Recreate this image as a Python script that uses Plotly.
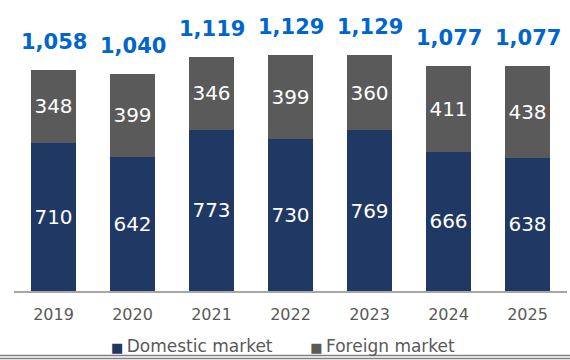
import plotly.graph_objects as go

years = ["2019", "2020", "2021", "2022", "2023", "2024", "2025"]
domestic = [710, 642, 773, 730, 769, 666, 638]
foreign = [348, 399, 346, 399, 360, 411, 438]
totals = [1058, 1040, 1119, 1129, 1129, 1077, 1077]
series_names = ["Domestic market", "Foreign market"]
series_colors = ["#1F3864", "#5A5A5A"]

FONT = "DejaVu Sans"
fig = go.Figure()
for name, vals, col in zip(series_names, [domestic, foreign], series_colors):
    fig.add_trace(go.Bar(
        x=years, y=vals, name=name,
        marker=dict(color=col, line=dict(width=0)),
        text=[str(v) for v in vals], textposition="inside",
        insidetextanchor="middle", textangle=0, constraintext="none",
        textfont=dict(color="white", size=20, family=FONT),
        showlegend=False,
    ))

# category index positions for annotations (numeric-looking strings would be read as indices)
for i, t in enumerate(totals):
    fig.add_annotation(
        x=i, y=t, text=f"<b>{t:,}</b>", showarrow=False,
        yanchor="bottom", yshift=14,
        font=dict(color="#0066CC", size=21, family=FONT),
    )

W, H = 570, 360
l, r, t, b = 14, 3, 9, 69
ph = H - t - b
pw = W - l - r

def py(pix):
    return (H - b - pix) / ph

def px(pix):
    return (pix - l) / pw

# legend drawn as text with coloured squares
legend_txt = "       ".join(
    f"<span style='color:{c};font-size:13px'>■</span>\u2009{n}"
    for n, c in zip(series_names, series_colors)
)
fig.add_annotation(
    xref="paper", yref="paper", x=px(283), y=py(346),
    xanchor="center", yanchor="middle", showarrow=False,
    text=legend_txt, font=dict(size=17, color="#595959", family=FONT),
)

for ypix in (355.5, 358.5):
    fig.add_shape(type="line", xref="paper", yref="paper",
                  x0=-l / pw, x1=(W - l) / pw, y0=py(ypix), y1=py(ypix),
                  line=dict(color="#808080", width=1.5))

fig.update_layout(
    width=W, height=H,
    margin=dict(l=l, r=r, t=t, b=b, pad=0),
    barmode="stack", bargap=0.42,
    plot_bgcolor="white", paper_bgcolor="white",
    font=dict(family=FONT, color="#595959", size=16),
    showlegend=False,
    xaxis=dict(type="category", showline=True, linecolor="#A6A6A6", linewidth=2,
               ticks="", tickfont=dict(size=16, color="#595959"),
               ticklabelstandoff=8,
               showgrid=False, range=[-0.5, 6.5], automargin=False),
    yaxis=dict(range=[0, 1350], visible=False, showgrid=False, automargin=False),
)

fig.write_html("out.html", config={"displayModeBar": False},
               post_script="document.body.style.margin='0';document.body.style.overflow='hidden';")
